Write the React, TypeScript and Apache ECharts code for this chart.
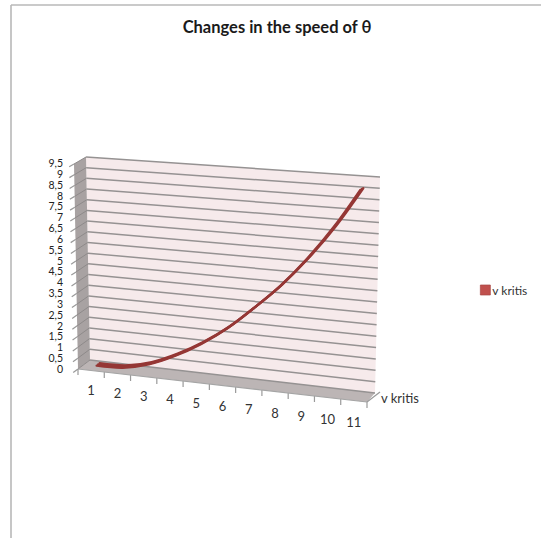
import React, { useEffect, useRef } from "react";
import * as echarts from "echarts";

const categories = ["1", "2", "3", "4", "5", "6", "7", "8", "9", "10", "11"];
const seriesName = "v kritis";
const values = [0.03, 0.07, 0.36, 0.88, 1.55, 2.38, 3.4, 4.5, 5.8, 7.3, 9.05];
const yTicks = [0, 0.5, 1, 1.5, 2, 2.5, 3, 3.5, 4, 4.5, 5, 5.5, 6, 6.5, 7, 7.5, 8, 8.5, 9, 9.5];
const ribbonDepths = [0.27, 0.4, 0.53];

const FONT = "Lato";
const G = { left: 77, top: 163, width: 290, height: 206 };
const BACK = { tl: [86, 157], tr: [380, 177], bl: [90, 360], br: [375, 393] };
const FRONT = { tl: [74, 164], tr: [368, 184], bl: [78, 369], br: [367, 402] };
const lerp = (a: number, b: number, t: number) => a + (b - a) * t;
const bil = (q: any, u: number, v: number) => {
  const top = [lerp(q.tl[0], q.tr[0], u), lerp(q.tl[1], q.tr[1], u)];
  const bot = [lerp(q.bl[0], q.br[0], u), lerp(q.bl[1], q.br[1], u)];
  return [lerp(bot[0], top[0], v), lerp(bot[1], top[1], v)];
};
// u, v: 0..1 along the axes, d: 0 at the back wall, 1 at the front
const project = (u: number, v: number, d: number) => {
  const b = bil(BACK, u, v);
  const f = bil(FRONT, u, v);
  return [lerp(b[0], f[0], d), lerp(b[1], f[1], d)];
};
const toUV = (p: number[]) => [(p[0] - G.left) / G.width, (G.top + G.height - p[1]) / G.height];

export default function App() {
  const ref = useRef<HTMLDivElement>(null);
  useEffect(() => {
    const chart = echarts.init(ref.current!, null, { renderer: "svg" });
    chart.setOption({
      animation: false,
      backgroundColor: "#ffffff",
      title: {
        text: "Changes in the speed of θ",
        left: 272,
        top: 13,
        textAlign: "center",
        textStyle: { fontFamily: FONT, fontSize: 16.5, fontWeight: "bold", color: "#1a1a1a" },
      },
      legend: {
        data: [seriesName],
        left: 480,
        top: 284,
        icon: "rect",
        itemWidth: 10,
        itemHeight: 10,
        itemGap: 0,
        padding: 0,
        itemStyle: { borderColor: "#a84643", borderWidth: 0.7 },
        textStyle: { fontFamily: FONT, fontSize: 12, color: "#333333", padding: [0, 0, 0, -3] },
      },
      grid: { left: G.left, top: G.top, width: G.width, height: G.height },
      xAxis: {
        type: "category",
        data: categories,
        axisLine: { show: false },
        axisTick: { show: false },
        axisLabel: { show: false },
      },
      yAxis: {
        type: "value",
        min: 0,
        max: 9.5,
        interval: 0.5,
        splitLine: { show: false },
        axisLine: { show: false },
        axisTick: { show: false },
        axisLabel: {
          margin: 14,
          fontFamily: FONT,
          fontSize: 10.5,
          lineHeight: 10.5,
          color: "#222222",
          showMinLabel: true,
          showMaxLabel: true,
          hideOverlap: false,
          formatter: (v: number) => String(v).replace(".", ","),
        },
      },
      graphic: [
        { type: "line", shape: { x1: 11, y1: 5, x2: 541, y2: 5 }, style: { stroke: "#b8b8b8", lineWidth: 1.6 } },
        { type: "line", shape: { x1: 11, y1: 5, x2: 11, y2: 538 }, style: { stroke: "#b8b8b8", lineWidth: 1.6 } },
        {
          type: "text",
          x: 381,
          y: 391,
          style: { text: seriesName, fontFamily: FONT, fontSize: 13, fill: "#333333" },
        },
      ],
      series: [
        {
          type: "custom",
          name: "walls",
          silent: true,
          z: 1,
          data: [0],
          renderItem: () => {
            const poly = (pts: number[][], fill: string) => ({
              type: "polygon",
              shape: { points: pts },
              style: { fill, stroke: "none" },
            });
            return {
              type: "group",
              children: [
                poly([project(0, 0, 0), project(1, 0, 0), project(1, 1, 0), project(0, 1, 0)], "#f6eaeb"),
                poly([project(0, 0, 0), project(0, 1, 0), project(0, 1, 1), project(0, 0, 1)], "#a8a2a2"),
                poly([project(0, 0, 0), project(1, 0, 0), project(1, 0, 1), project(0, 0, 1)], "#bcb5b5"),
              ],
            };
          },
        },
        {
          type: "custom",
          name: "grid lines",
          silent: true,
          z: 2,
          data: yTicks.map((t) => [0, t]),
          encode: { x: 0, y: 1 },
          renderItem: (_: any, api: any) => {
            const v = toUV(api.coord([0, api.value(1)]))[1];
            const line = (a: number[], b: number[], stroke: string, lineWidth: number) => ({
              type: "line",
              shape: { x1: a[0], y1: a[1], x2: b[0], y2: b[1] },
              style: { stroke, lineWidth },
            });
            const a = project(0, v, 0);
            const f = project(0, v, 1);
            const t = project(0, v, 1.4);
            return {
              type: "group",
              children: [
                line(a, project(1, v, 0), "#959292", 1.5),
                line(a, f, "#8e8a8a", 1),
                line(f, t, "#9a9a9a", 1.2),
              ],
            };
          },
        },
        {
          type: "custom",
          name: "x ticks",
          silent: true,
          z: 3,
          data: categories.map((c, i) => [i, 0]),
          encode: { x: 0, y: 1 },
          renderItem: (params: any, api: any) => {
            const p = api.coord([api.value(0), 0]);
            const u = toUV(p)[0];
            const step = 1 / categories.length;
            const left = project(u - step / 2, 0, 1);
            const lab = project(u, 0, 1);
            const children: any[] = [
              { type: "line", shape: { x1: left[0], y1: left[1], x2: left[0], y2: left[1] + 6 }, style: { stroke: "#9a9a9a", lineWidth: 1.2 } },
              {
                type: "text",
                x: lab[0],
                y: lab[1] + 19 + 3 * u,
                style: {
                  text: categories[params.dataIndex],
                  fontFamily: FONT,
                  fontSize: 13,
                  fill: "#333333",
                  align: "center",
                  verticalAlign: "middle",
                },
              },
            ];
            if (params.dataIndex === categories.length - 1) {
              const r = project(1, 0, 1);
              const b = project(1, 0, 0);
              const l = project(0, 0, 1);
              children.push(
                { type: "line", shape: { x1: r[0], y1: r[1], x2: r[0], y2: r[1] + 6 }, style: { stroke: "#9a9a9a", lineWidth: 1.2 } },
                { type: "line", shape: { x1: r[0], y1: r[1], x2: b[0] + 5, y2: b[1] - 1 }, style: { stroke: "#9a9a9a", lineWidth: 1.2 } },
                { type: "line", shape: { x1: l[0], y1: l[1], x2: r[0], y2: r[1] }, style: { stroke: "#a5a5a5", lineWidth: 1.2 } }
              );
            }
            return { type: "group", children };
          },
        },
        {
          type: "custom",
          name: seriesName,
          z: 4,
          silent: true,
          itemStyle: { color: "#c0504d" },
          data: values.map((v, i) => [i, v]),
          encode: { x: 0, y: 1 },
          renderItem: (params: any, api: any) => {
            if (params.dataIndex !== 0) return { type: "group", children: [] };
            return {
              type: "group",
              children: ribbonDepths.map((d) => ({
                type: "polyline",
                shape: {
                  points: values.map((v, i) => {
                    const [u, w] = toUV(api.coord([i, v]));
                    return project(u, w, d);
                  }),
                  smooth: 0.35,
                },
                style: { stroke: "#953735", lineWidth: 2.4, fill: "none", lineCap: "round", lineJoin: "round" },
              })),
            };
          },
        },
      ],
    });
    return () => chart.dispose();
  }, []);
  return <div ref={ref} style={{ position: "absolute", left: 0, top: 0, width: 541, height: 538 }} />;
}
